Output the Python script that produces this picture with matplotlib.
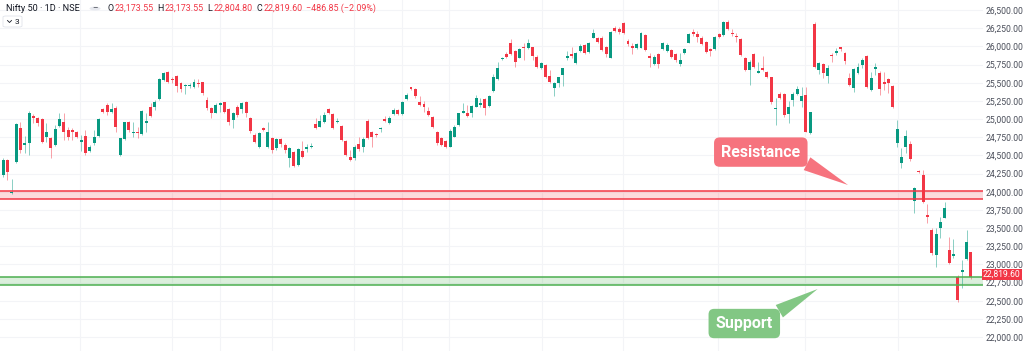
import matplotlib
matplotlib.use('Agg')
import matplotlib.pyplot as plt
import matplotlib.transforms as mtransforms
from matplotlib.patches import FancyBboxPatch, Circle
from matplotlib.lines import Line2D
from matplotlib.ticker import FuncFormatter

W, H, DPI = 1024, 351, 100

plt.rcParams['font.family'] = ['Roboto', 'DejaVu Sans']

# Daily candles (open, high, low, close).
opens = [24229, 24436, 23985, 24404, 24872, 24642, 24674, 25041, 25018, 25000,
         24757, 24734, 24642, 24908, 24963, 24849, 24849, 24817, 24688, 24771,
         24564, 24665, 24766, 25133, 25193, 25101, 25156, 24505, 24725, 24963,
         24803, 24826, 24794, 24940, 25161, 25161, 25271, 25537, 25647, 25551,
         25596, 25491, 25450, 25459, 25445, 25500, 25505, 25262, 25147, 25087,
         25197, 25229, 25133, 24986, 25170, 25133, 25239, 25009, 24780, 24610,
         24881, 24610, 24734, 24596, 24725, 24638, 24459, 24541, 24362, 24564,
         24583, 24610, 24931, 24895, 24963, 25138, 25069, 24959, 24904, 24697,
         24482, 24459, 24651, 24619, 24977, 24817, 24798, 24858, 24996, 24940,
         25064, 25124, 25069, 25271, 25436, 25413, 25239, 25206, 25115, 25032,
         24821, 24734, 24697, 24619, 24757, 24918, 25087, 25078, 25078, 25170,
         25193, 25271, 25179, 25390, 25546, 25821, 25890, 26050, 25936, 25844,
         25995, 25973, 25986, 25858, 25697, 25743, 25592, 25431, 25500, 25606,
         25835, 25890, 25766, 25936, 26018, 25918, 26119, 26110, 26119, 25995,
         25844, 26257, 26239, 26317, 26078, 26005, 25973, 25982, 26156, 25867,
         25752, 25890, 25963, 25936, 25950, 25890, 25752, 25904, 26050, 26202,
         26165, 26119, 26055, 25959, 25959, 26165, 26156, 26330, 26179, 26142,
         26101, 25835, 25674, 25890, 25638, 25697, 25651, 25573, 25138, 25344,
         25344, 25064, 25262, 25344, 25248, 25330, 24803, 26303, 25674, 25752,
         25596, 25881, 25913, 25986, 25904, 25569, 25422, 25638, 25743, 25867,
         25399, 25684, 25638, 25505, 25551, 25454, 24665, 24390, 24619, 24651,
         23872, 24284, 24229, 23679, 23473, 23128, 23496, 23642, 23197, 23119,
         22830, 22890, 23074, 23173.55]
highs = [24459, 24450, 24175, 24950, 24963, 24766, 25115, 25064, 25032, 25009,
         24940, 24757, 24913, 25078, 25078, 24895, 24881, 24840, 24780, 24849,
         24642, 24849, 25018, 25147, 25216, 25216, 25184, 24743, 24963, 24973,
         24963, 24895, 25124, 25078, 25216, 25262, 25560, 25651, 25665, 25583,
         25606, 25514, 25477, 25491, 25546, 25546, 25514, 25307, 25170, 25225,
         25239, 25239, 25156, 25101, 25193, 25239, 25252, 25023, 24803, 24826,
         24895, 24954, 24757, 24734, 24734, 24665, 24610, 24564, 24596, 24702,
         24656, 24665, 25009, 25055, 25092, 25156, 25078, 25009, 24913, 24711,
         24573, 24642, 24757, 24757, 24996, 24840, 24812, 24895, 25041, 25041,
         25147, 25138, 25252, 25353, 25445, 25431, 25317, 25252, 25170, 25041,
         24840, 24748, 24711, 24858, 24913, 25087, 25216, 25193, 25193, 25330,
         25285, 25285, 25330, 25620, 25780, 25858, 25927, 26101, 25950, 25982,
         26041, 26101, 25995, 25881, 25789, 25752, 25674, 25514, 25583, 25707,
         25936, 25995, 25927, 26028, 26028, 26055, 26239, 26133, 26147, 26009,
         26211, 26284, 26271, 26330, 26101, 26041, 26050, 26193, 26165, 25904,
         25881, 25904, 26055, 26041, 25963, 25904, 25904, 25982, 26179, 26234,
         26216, 26147, 26073, 25982, 26147, 26179, 26349, 26362, 26239, 26179,
         26119, 25858, 25812, 25904, 25789, 25872, 25661, 25583, 25285, 25367,
         25353, 25248, 25367, 25459, 25445, 25445, 25101, 26340, 25789, 25766,
         25743, 25904, 25973, 25995, 25918, 25628, 25697, 25766, 25835, 25881,
         25651, 25766, 25661, 25642, 25569, 25468, 24986, 24596, 24849, 24697,
         24069, 24298, 24298, 23826, 23496, 23496, 23656, 23862, 23381, 23349,
         22853, 23060, 23473, 23173.55]
lows = [24207, 24161, 23975, 24390, 24528, 24537, 24505, 24940, 24904, 24674,
        24688, 24468, 24629, 24895, 24711, 24711, 24711, 24734, 24564, 24505,
        24551, 24642, 24757, 25078, 25055, 25078, 24826, 24496, 24711, 24826,
        24748, 24734, 24785, 24826, 25032, 25124, 25262, 25528, 25491, 25491,
        25376, 25376, 25340, 25422, 25431, 25445, 25330, 25124, 25009, 25078,
        25101, 25078, 24917, 24872, 25032, 25078, 25023, 24812, 24665, 24596,
        24835, 24596, 24537, 24574, 24619, 24528, 24344, 24344, 24353, 24459,
        24551, 24596, 24858, 24885, 24950, 25064, 24858, 24940, 24702, 24491,
        24427, 24436, 24564, 24551, 24720, 24619, 24757, 24826, 24963, 24931,
        25050, 25055, 25055, 25262, 25399, 25284, 25179, 25101, 25041, 24872,
        24642, 24629, 24596, 24610, 24748, 24904, 25078, 25023, 25023, 25161,
        25161, 25055, 25170, 25376, 25535, 25812, 25844, 25881, 25720, 25835,
        25812, 25959, 25812, 25697, 25684, 25569, 25491, 25321, 25445, 25454,
        25812, 25844, 25752, 25927, 25890, 25904, 26110, 26041, 25936, 25858,
        25835, 26202, 26165, 26165, 26009, 25890, 25963, 25973, 25936, 25720,
        25743, 25697, 25950, 25918, 25844, 25789, 25734, 25890, 26041, 26147,
        26064, 26018, 25904, 25872, 25950, 26119, 26147, 26225, 26147, 26064,
        25872, 25661, 25468, 25697, 25629, 25661, 25569, 25202, 24917, 25275,
        25032, 24940, 25184, 25331, 25170, 24817, 24789, 25697, 25615, 25569,
        25491, 25780, 25881, 25936, 25752, 25459, 25376, 25615, 25697, 25431,
        25385, 25606, 25330, 25399, 25353, 25147, 24610, 24321, 24528, 24422,
        23702, 24252, 23840, 23564, 23128, 22968, 23367, 23633, 23000, 23083,
        22486, 22670, 23060, 22804.80]
closes = [24436, 24275, 24000, 24927, 24574, 24674, 25078, 25014, 24940, 24688,
          24817, 24606, 24862, 25000, 24826, 24748, 24817, 24748, 24711, 24537,
          24619, 24748, 24995, 25092, 25101, 25138, 24895, 24734, 24954, 24849,
          24817, 24803, 25110, 24973, 25041, 25239, 25546, 25638, 25514, 25537,
          25454, 25408, 25463, 25473, 25514, 25477, 25353, 25147, 25078, 25193,
          25216, 25101, 24963, 25087, 25055, 25216, 25078, 24840, 24688, 24812,
          24849, 24817, 24574, 24725, 24651, 24574, 24596, 24353, 24583, 24482,
          24610, 24629, 24872, 24977, 25055, 25078, 24872, 24977, 24711, 24505,
          24436, 24619, 24587, 24720, 24734, 24748, 24775, 24876, 24977, 25014,
          25124, 25064, 25239, 25330, 25413, 25321, 25193, 25161, 25055, 24895,
          24665, 24642, 24610, 24840, 24895, 25078, 25110, 25041, 25179, 25285,
          25225, 25147, 25317, 25583, 25700, 25844, 25858, 25890, 25789, 25963,
          25973, 26050, 25872, 25720, 25766, 25583, 25505, 25491, 25573, 25697,
          25872, 25867, 25904, 26005, 25904, 26041, 26179, 26064, 25950, 25890,
          26202, 26211, 26202, 26179, 26028, 25982, 26028, 26179, 25950, 25835,
          25858, 25752, 26041, 26018, 25858, 25812, 25812, 25959, 26165, 26170,
          26133, 26028, 25927, 25936, 26124, 26133, 26330, 26239, 26165, 26128,
          25881, 25674, 25789, 25720, 25661, 25674, 25583, 25229, 25156, 25294,
          25055, 25170, 25340, 25413, 25317, 24826, 25092, 25720, 25766, 25628,
          25697, 25867, 25936, 25959, 25798, 25468, 25684, 25720, 25812, 25445,
          25569, 25711, 25413, 25477, 25491, 25170, 24862, 24482, 24771, 24450,
          24046, 24266, 23863, 23647, 23151, 23413, 23587, 23780, 23014, 23138,
          22509, 22922, 23312, 22819.60]

price_ticks = list(range(22000, 26501, 250))
resistance_zone = (23895, 24010)
support_zone = (22715, 22822)
header_title = 'Nifty 50 · 1D · NSE'
header_ohlc = [('O', '23,173.55'), ('H', '23,173.55'), ('L', '22,804.80'), ('C', '22,819.60')]
header_change = '−486.85 (−2.09%)'

# vertical grid (month boundaries), in candle index units
month_lines = [17.7, 38.9, 50.0, 62.0, 80.9, 91.9, 102.7, 124.2, 142.8, 164.7, 184.7, 206.2]

UP = '#089981'
DOWN = '#f23645'
GRID = '#f3f4f7'
TEXT = '#131722'
AXIS_TEXT = '#4a4e5a'

fig = plt.figure(figsize=(W / DPI, H / DPI), dpi=DPI)
fig.patch.set_facecolor('white')
ax = fig.add_axes([0, 0, 983 / W, 1])

n = len(closes)

ax.set_xlim(-0.7, 225.8)
ax.set_ylim(21808, 26638)

for m in month_lines:
    ax.axvline(m, color=GRID, lw=0.8, zorder=0)
for p in price_ticks:
    ax.axhline(p, color=GRID, lw=0.8, zorder=0)

# candles
for i in range(n):
    o, h, l, c = opens[i], highs[i], lows[i], closes[i]
    col = UP if c >= o else DOWN
    ax.vlines(i, l, h, color=col, lw=0.6, alpha=0.55, zorder=2)
    ax.bar(i, max(abs(c - o), 14), bottom=min(o, c), width=0.68,
           color=col, edgecolor='none', zorder=3)

# zones
ax.axhspan(*resistance_zone, color=DOWN, alpha=0.18, lw=0, zorder=1)
for v in resistance_zone:
    ax.axhline(v, color=DOWN, lw=1.1, zorder=4)
ax.axhspan(*support_zone, color='#4caf50', alpha=0.2, lw=0, zorder=1)
for v in support_zone:
    ax.axhline(v, color='#4caf50', lw=1.1, zorder=4)

# callouts
ax.annotate('Resistance', xy=(194.7, 24092), xytext=(174.6, 24545),
            ha='center', va='center', fontsize=11.5, fontweight='bold', color='white',
            bbox=dict(boxstyle='round,pad=0.45,rounding_size=0.35', fc='#f6737e', ec='none'),
            arrowprops=dict(arrowstyle='wedge,tail_width=0.9,shrink_factor=0.5',
                            fc='#f6737e', ec='none', relpos=(0.93, 0.15),
                            shrinkA=0, shrinkB=0),
            zorder=6)
ax.annotate('Support', xy=(187.7, 22661), xytext=(170.8, 22186),
            ha='center', va='center', fontsize=11.5, fontweight='bold', color='white',
            bbox=dict(boxstyle='round,pad=0.45,rounding_size=0.35', fc='#82c784', ec='none'),
            arrowprops=dict(arrowstyle='wedge,tail_width=0.9,shrink_factor=0.5',
                            fc='#82c784', ec='none', relpos=(0.9, 0.85),
                            shrinkA=0, shrinkB=0),
            zorder=6)

# price axis on the right
ax.yaxis.tick_right()
ax.set_yticks(price_ticks)
ax.yaxis.set_major_formatter(FuncFormatter(lambda v, p: f'{v:,.2f}'))
ax.tick_params(axis='y', length=0, pad=2, labelsize=6.2, labelcolor=AXIS_TEXT)
ax.set_xticks([])
for s in ax.spines.values():
    s.set_visible(False)

trans = mtransforms.blended_transform_factory(ax.transAxes, ax.transData)
ax.text(1.0, closes[-1] + 40, f'{closes[-1]:,.2f}', transform=trans, ha='left', va='center',
        fontsize=6.2, color='white', clip_on=False, zorder=10,
        bbox=dict(boxstyle='square,pad=0.12', fc=DOWN, ec='none'))


# header
def fx(px):
    return px / W


def fy(py):
    return 1 - py / H


renderer = fig.canvas.get_renderer()


def put(x, s, color, size=6.4):
    t = fig.text(fx(x), fy(8.5), s, fontsize=size, color=color, va='center', ha='left')
    return x + t.get_window_extent(renderer).width


# title sized so that it spans about 74 px like the reference
probe = fig.text(0, 0, header_title, fontsize=10)
title_size = 10 * 74 / probe.get_window_extent(renderer).width
probe.remove()
put(6, header_title, TEXT, size=title_size)

fig.add_artist(Circle((fx(95), fy(8.5)), 5.5 / W, transform=fig.transFigure,
                      fc='#e6e8ee', ec='none'))
fig.text(fx(95), fy(8.5), '–', fontsize=6, color=TEXT, ha='center', va='center')

x = 107
for lab, val in header_ohlc:
    x = put(x, lab, TEXT) + 1
    x = put(x, val, DOWN) + 4
put(x, header_change, DOWN)

fig.add_artist(FancyBboxPatch((fx(3), fy(27)), 19 / W, 11 / H, transform=fig.transFigure,
                              boxstyle='round,pad=0,rounding_size=0.003',
                              fc='white', ec='#e0e3eb', lw=0.6))
fig.add_artist(Line2D([fx(7.5), fx(9.5), fx(11.5)], [fy(20.5), fy(22.5), fy(20.5)],
                      transform=fig.transFigure, color=TEXT, lw=0.6))
fig.text(fx(14.5), fy(21.5), '3', fontsize=6, color=TEXT, va='center', ha='left')

fig.savefig('out.png', dpi=DPI, facecolor='white')
